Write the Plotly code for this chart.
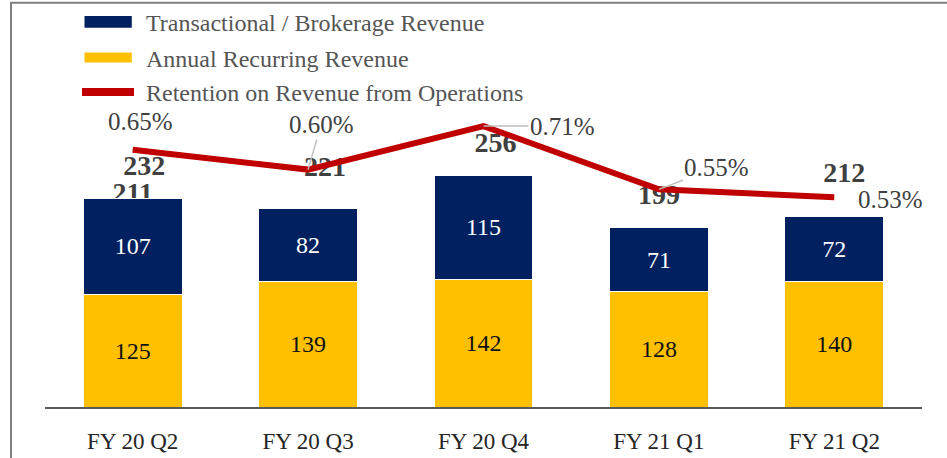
import plotly.graph_objects as go

# ---- data ----
quarters = ["FY 20 Q2", "FY 20 Q3", "FY 20 Q4", "FY 21 Q1", "FY 21 Q2"]
annual_recurring = [125, 139, 142, 128, 140]
transactional = [107, 82, 115, 71, 72]
totals = [232, 221, 256, 199, 212]
retention_pct = [0.65, 0.60, 0.71, 0.55, 0.53]
stray_index = [0]
stray_value = [211]
legend_names = ["Transactional / Brokerage Revenue",
                "Annual Recurring Revenue",
                "Retention on Revenue from Operations"]

# ---- style ----
NAVY = "#002060"
GOLD = "#FFC000"
RED = "#C00000"
GREY_TXT = "#404040"
FONT = "Liberation Serif"
W, H = 947, 458
M_L, M_R, M_T, M_B = 45, 25, 3, 51
PLOT_H = H - M_T - M_B
PLOT_W = W - M_L - M_R
PX_PER_UNIT = 0.9
Y_MAX = PLOT_H / PX_PER_UNIT
Y3_RANGE = [0.0, 1.021]
# label placement offsets for the totals (value units / category units)
TOTAL_PADS = [34, 43, 35, 34, 46]
TOTAL_DXS = [0.066, 0.097, 0.068, 0.0, 0.057]
STRAY_PAD = 4
# (dx, dy, leader) offsets in px of the percentage labels
PCT_OFFSETS = [(8, -28, False), (13, -45, True), (79, 0, True), (58, -22, True), (56, 2, False)]

pos = list(range(len(quarters)))


def px_x(px):
    return (px - M_L) / PLOT_W


def px_y(py):
    return (H - M_B - py) / PLOT_H


fig = go.Figure()

# stray label drawn under the bars (bottom subplot)
fig.add_trace(go.Scatter(
    x=stray_index, y=[totals[i] + STRAY_PAD for i in stray_index],
    mode="text", text=[str(v) for v in stray_value],
    textposition="middle center",
    textfont=dict(family=FONT, size=28, color=GREY_TXT, weight="bold"),
    showlegend=False, hoverinfo="skip", xaxis="x", yaxis="y"))

# stacked bars
fig.add_trace(go.Bar(
    x=pos, y=annual_recurring, name=legend_names[1],
    marker=dict(color=GOLD, line=dict(color="white", width=1)),
    text=annual_recurring, textposition="inside", insidetextanchor="middle",
    textangle=0, insidetextfont=dict(family=FONT, size=24, color="#111111"),
    showlegend=False, yaxis="y2"))
fig.add_trace(go.Bar(
    x=pos, y=transactional, name=legend_names[0],
    marker=dict(color=NAVY, line=dict(color="white", width=1)),
    text=transactional, textposition="inside", insidetextanchor="middle",
    textangle=0, insidetextfont=dict(family=FONT, size=24, color="white"),
    showlegend=False, yaxis="y2"))

# totals
fig.add_trace(go.Scatter(
    x=[p + d for p, d in zip(pos, TOTAL_DXS)],
    y=[t + pad for t, pad in zip(totals, TOTAL_PADS)], mode="text",
    text=[str(t) for t in totals], textposition="middle center",
    textfont=dict(family=FONT, size=28, color=GREY_TXT, weight="bold"),
    showlegend=False, hoverinfo="skip", yaxis="y2"))

# retention line
fig.add_trace(go.Scatter(
    x=pos, y=retention_pct, mode="lines",
    line=dict(color=RED, width=6),
    name=legend_names[2],
    showlegend=False, yaxis="y3"))

# percentage labels
for p, v, (dx, dy, leader) in zip(pos, retention_pct, PCT_OFFSETS):
    if leader:
        fig.add_annotation(x=p, y=v, xref="x", yref="y3", text=f"{v:.2f}%",
                           showarrow=True, ax=dx, ay=dy, arrowhead=0,
                           arrowwidth=1.5, arrowcolor="#BFBFBF",
                           font=dict(family=FONT, size=25, color=GREY_TXT))
    else:
        fig.add_annotation(x=p, y=v, xref="x", yref="y3", text=f"{v:.2f}%",
                           showarrow=False, xshift=dx, yshift=-dy,
                           font=dict(family=FONT, size=25, color=GREY_TXT))

# legend (swatches + labels)
fig.add_shape(type="rect", xref="paper", yref="paper",
              x0=px_x(84.5), x1=px_x(131.8), y0=px_y(27.7), y1=px_y(15.9),
              fillcolor=NAVY, line=dict(width=0), layer="above")
fig.add_shape(type="rect", xref="paper", yref="paper",
              x0=px_x(84.5), x1=px_x(131.8), y0=px_y(62.5), y1=px_y(52.4),
              fillcolor=GOLD, line=dict(width=0), layer="above")
fig.add_shape(type="line", xref="paper", yref="paper",
              x0=px_x(82), x1=px_x(134), y0=px_y(92), y1=px_y(92),
              line=dict(color=RED, width=8), layer="above")
for nm, yc in zip(legend_names, [23, 58.5, 93.5]):
    fig.add_annotation(xref="paper", yref="paper", x=px_x(144), y=px_y(yc),
                       xanchor="left", yanchor="middle", showarrow=False,
                       text=nm, font=dict(family=FONT, size=24, color="#555555"))

# outer frame
fig.add_shape(type="rect", xref="paper", yref="paper",
              x0=px_x(11), x1=1.2, y0=-0.3, y1=px_y(2.7),
              line=dict(color="#808080", width=2), fillcolor="rgba(0,0,0,0)",
              layer="above")

fig.update_layout(
    width=W, height=H,
    margin=dict(l=M_L, r=M_R, t=M_T, b=M_B, pad=0),
    paper_bgcolor="white", plot_bgcolor="white",
    barmode="stack", bargap=0.436,
    font=dict(family=FONT, color=GREY_TXT),
    xaxis=dict(range=[-0.5, len(quarters) - 0.5], tickmode="array",
               tickvals=pos, ticktext=quarters,
               showgrid=False, showline=True, linecolor="#595959", linewidth=2,
               ticks="", tickfont=dict(family=FONT, size=23, color="#262626"),
               ticklabelstandoff=12, zeroline=False),
    yaxis=dict(range=[0, Y_MAX], visible=False),
    yaxis2=dict(range=[0, Y_MAX], visible=False, overlaying="y"),
    yaxis3=dict(range=Y3_RANGE, visible=False, overlaying="y"),
    showlegend=False,
)

fig.write_html("out.html", config={"displayModeBar": False},
               post_script="document.body.style.margin='0';document.body.style.overflow='hidden';")
